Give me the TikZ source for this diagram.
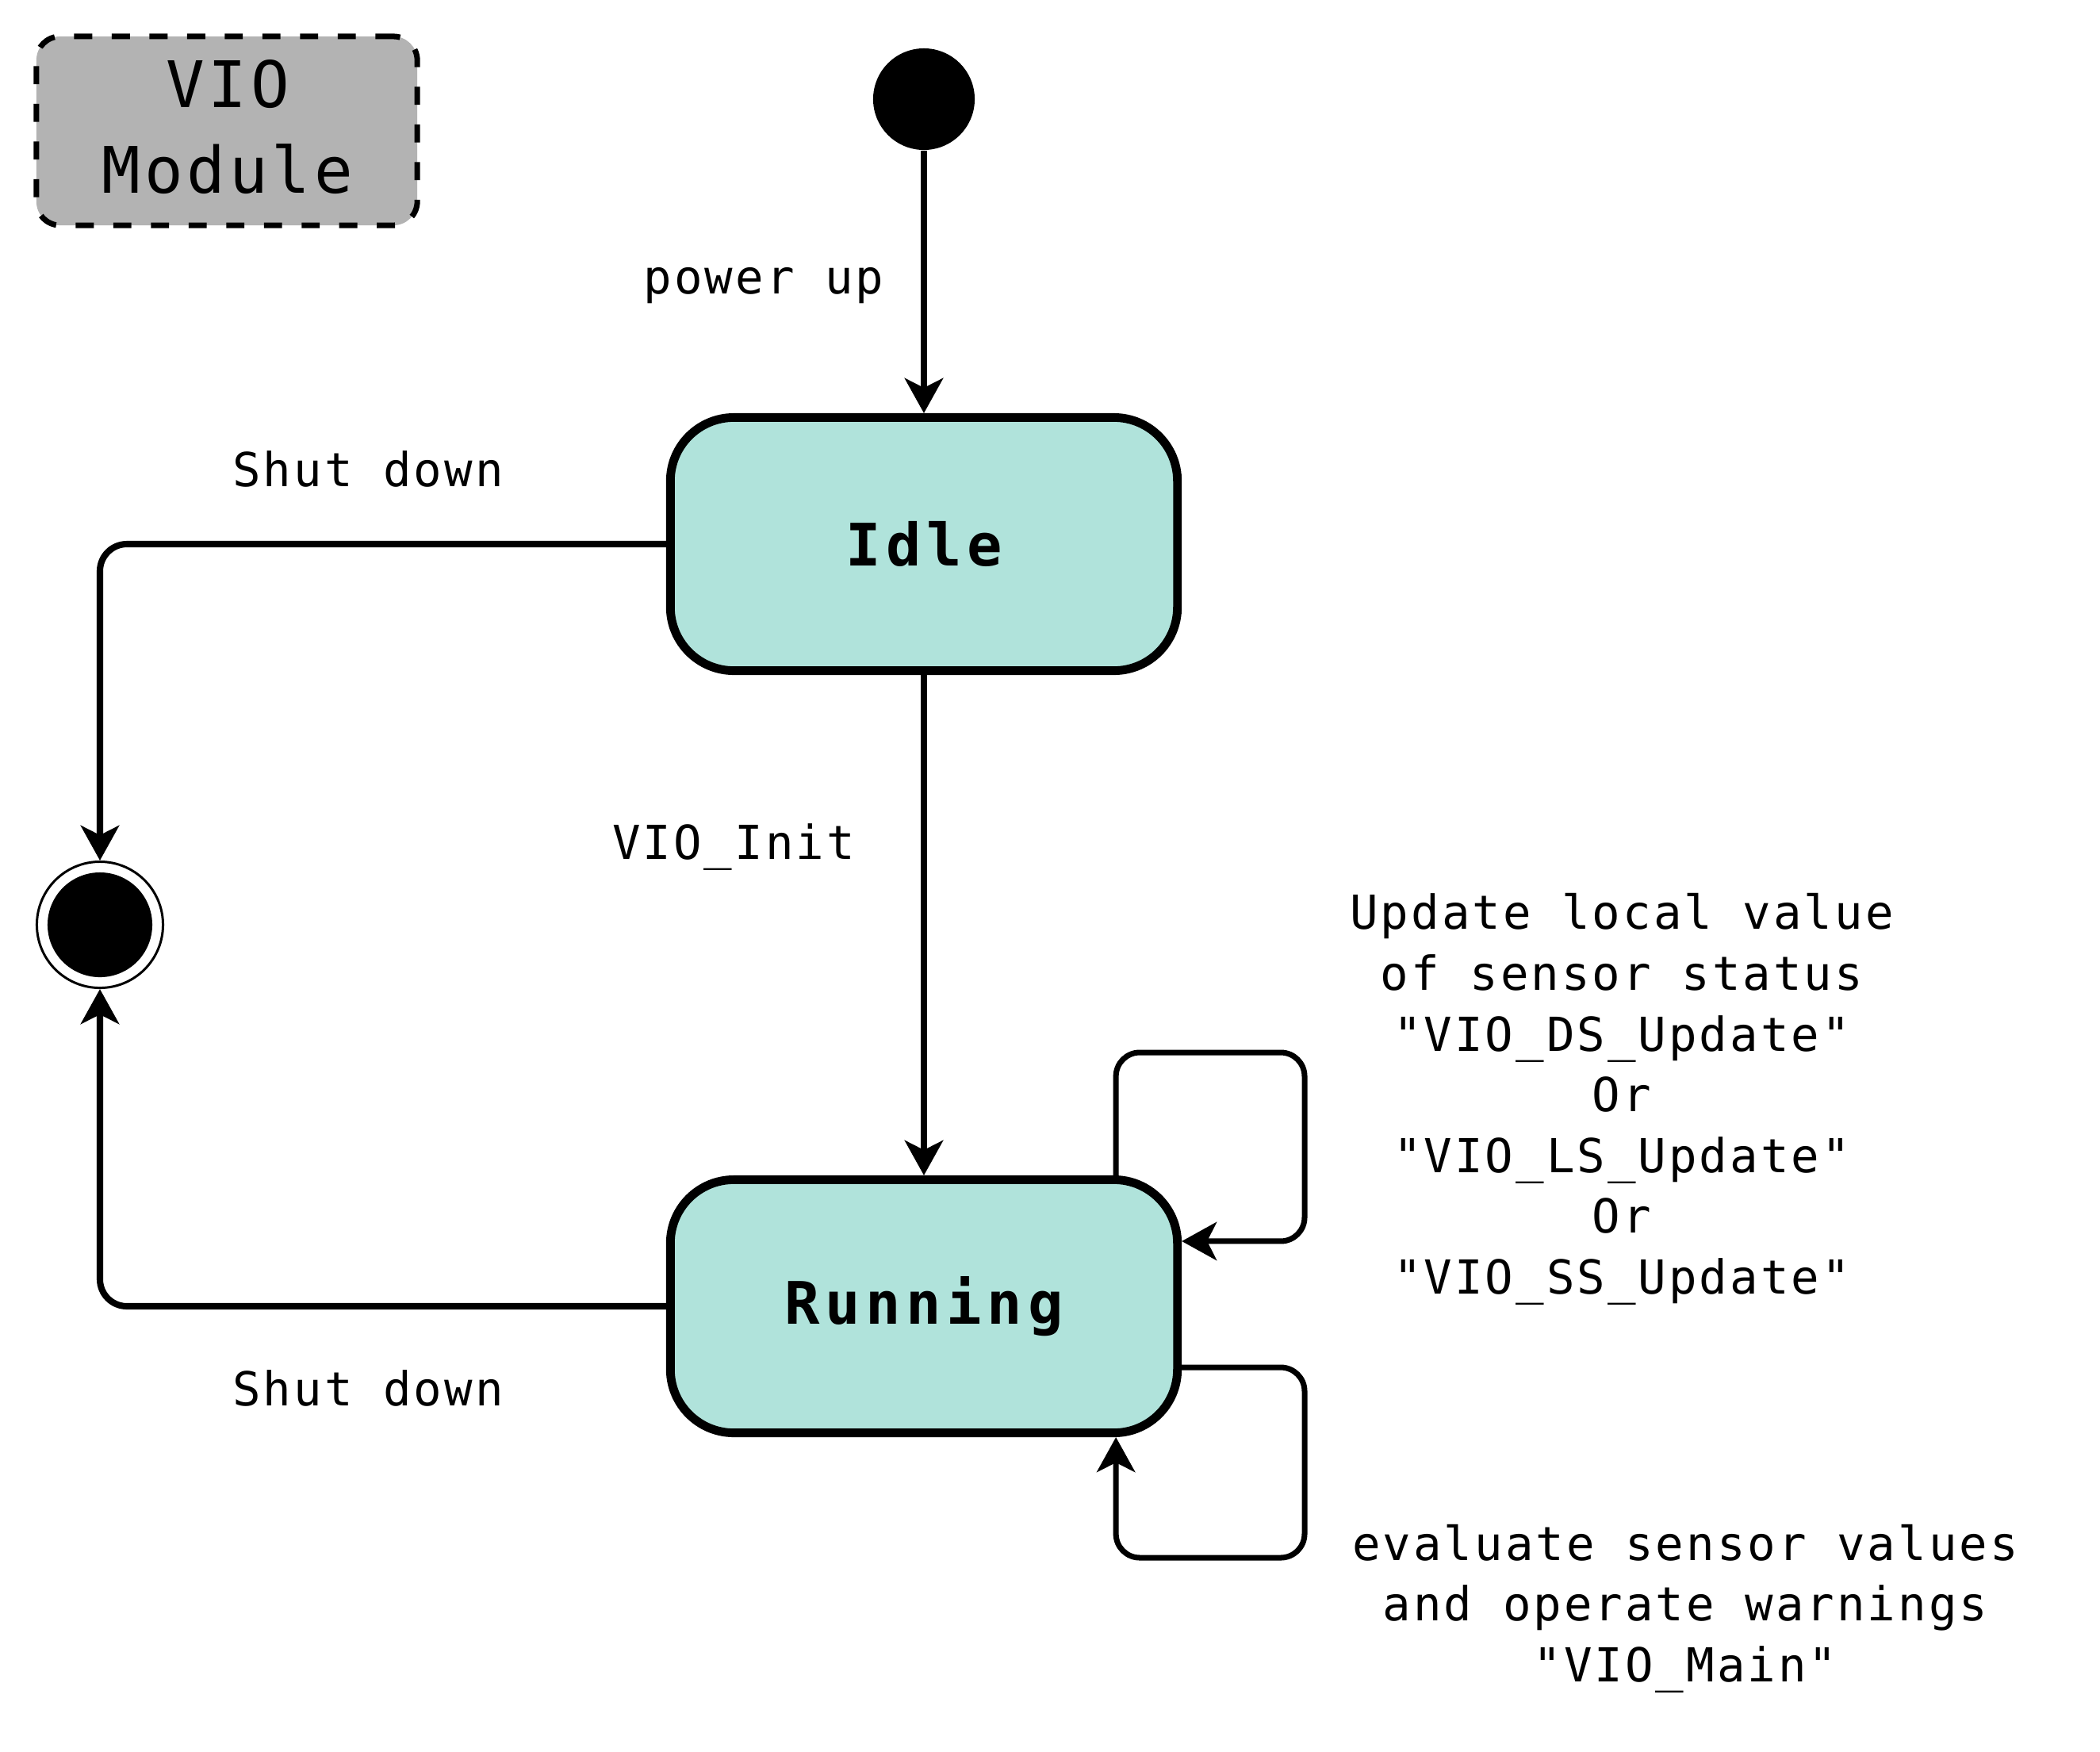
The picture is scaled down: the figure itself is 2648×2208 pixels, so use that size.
\documentclass[tikz,border=0pt]{standalone}
\usepackage{fontspec}
\usetikzlibrary{arrows.meta}
\newfontfamily\lblfont[LetterSpace=5.1,Ligatures=TeXOff]{DejaVu Sans Mono}
\newfontfamily\stfont[LetterSpace=9,Ligatures=TeXOff]{DejaVu Sans Mono}
\newfontfamily\viofont[LetterSpace=6,Ligatures=TeXOff]{DejaVu Sans Mono}
\definecolor{stfill}{HTML}{B0E3DB}
\definecolor{viofill}{HTML}{B3B3B3}
\begin{document}
\begin{tikzpicture}[x=0.01cm,y=-0.01cm,
  statebox/.style={draw, line width=3.1pt, fill=stfill, rounded corners=0.8cm,
    minimum width=6.39cm, minimum height=3.19cm, inner sep=0pt,
    font=\stfont\bfseries\fontsize{21pt}{25pt}\selectfont},
  conn/.style={line width=2.3pt, -{Stealth[length=12.5pt,width=13.7pt,inset=3.4pt]}},
  loopconn/.style={conn, line width=2pt, rounded corners=0.3cm},
  lbl/.style={font=\lblfont\fontsize{16.8pt}{21.8pt}\selectfont, inner sep=0pt},
  viobox/.style={draw, line width=2pt, dash pattern=on 6.5pt off 7pt, fill=viofill,
    rounded corners=0.3cm, minimum width=4.8cm, minimum height=2.38cm, align=center,
    inner sep=0pt, font=\viofont\fontsize{23pt}{30.7pt}\selectfont}
]
\useasboundingbox[fill=white] (0,0) rectangle (2648,2208);

\node[viobox] (vio) at (286,165) {};
\node[align=center, inner sep=0pt, font=\viofont\fontsize{23pt}{30.7pt}\selectfont] (viotext) at (287,160) {VIO\\Module};

\node[circle, fill=black, minimum size=1.28cm, inner sep=0pt] (start) at (1165,125) {};
\node[statebox] (idle) at (1165,686) {Idle};
\node[statebox] (running) at (1165,1647) {Running};
\node[circle, draw, line width=0.85pt, fill=white, minimum size=1.59cm, inner sep=0pt] (final) at (126,1166) {};
\node[circle, fill=black, minimum size=1.32cm, inner sep=0pt] (finaldot) at (final.center) {};

\draw[conn] (start) -- (idle);
\draw[conn] (idle) -- (running);
\draw[conn, rounded corners=0.34cm] (idle.west) -| (final.north);
\draw[conn, rounded corners=0.34cm] (running.west) -| (final.south);
\draw[loopconn] ([xshift=2.42cm]running.north) |- (1645,1327) |- ([yshift=0.82cm]running.east);
\draw[loopconn] ([yshift=-0.77cm]running.east) -| (1645,1964) -| ([xshift=2.42cm]running.south);

\node[lbl, anchor=base] (pwr) at (963,370) {power up};
\node[lbl, anchor=base] (sd1) at (464,613) {Shut down};
\node[lbl, anchor=base] (lblinit) at (925,1083) {VIO\_Init};
\node[lbl, anchor=base] (sd2) at (464,1772) {Shut down};
\node[lbl, align=center] (upd) at (2045,1386) {Update local value\\of sensor status\\"VIO\_DS\_Update"\\Or\\"VIO\_LS\_Update"\\Or\\"VIO\_SS\_Update"};
\node[lbl, align=center] (eval) at (2125,2028) {evaluate sensor values\\and operate warnings\\"VIO\_Main"};
\end{tikzpicture}
\end{document}
